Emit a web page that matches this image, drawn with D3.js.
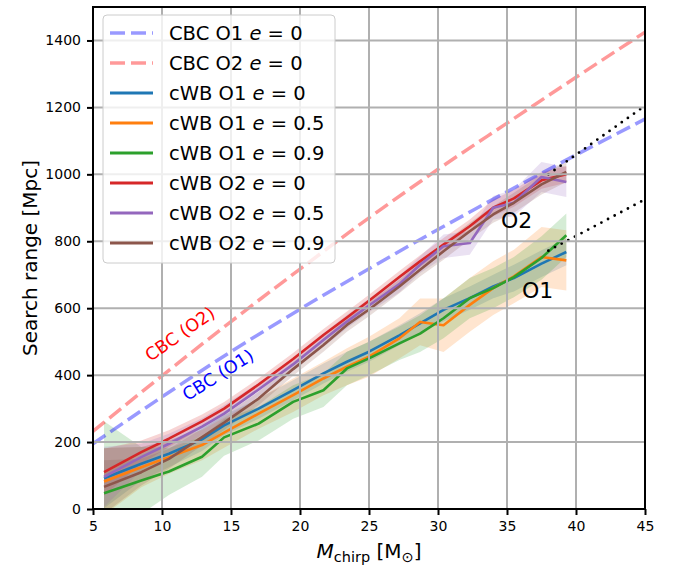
<!DOCTYPE html>
<html lang="en">
<head>
<meta charset="UTF-8">
<title>Search range vs chirp mass</title>
<script src="https://d3js.org/d3.v7.min.js"></script>
<style>
  body { margin: 0; background: #fff; }
  svg { font-family: "DejaVu Sans", sans-serif; }
</style>
</head>
<body>
<svg id="chart" width="673" height="567"></svg>
<script>
// ---- data ----
// CBC expected range (dashed), sampled every 5 Msun
let cbcMass = [5, 10, 15, 20, 25, 30, 35, 40, 45];
let cbcO1 = [195, 335, 470, 597, 718, 835, 948, 1058, 1165];
let cbcO2 = [232, 398, 560, 717, 870, 1015, 1153, 1290, 1425];

// cWB measured range, same mass bins for every series
let cwbMass = [5.8, 8.5, 10.5, 12.9, 14.5, 17, 19.5, 21.7, 23.4, 25, 27.2, 28.7, 30.4, 32.3, 34, 35.5, 37.5, 39.3];
let o1e0  = [92, 135, 165, 208, 250, 300, 355, 405, 440, 470, 519, 555, 595, 630, 665, 690, 733, 768];
let o1e05 = [82, 125, 155, 191, 228, 285, 340, 390, 425, 455, 510, 559, 549, 610, 660, 695, 753, 743];
let o1e09 = [47, 85, 112, 156, 214, 255, 320, 355, 420, 450, 495, 524, 570, 630, 660, 693, 750, 818];
let o2e0  = [110, 170, 210, 262, 300, 372, 448, 520, 572, 622, 693, 740, 790, 845, 900, 928, 982, 1000];
let o2e05 = [96, 155, 195, 246, 285, 357, 432, 505, 560, 608, 672, 730, 785, 795, 900, 915, 992, 977];
let o2e09 = [66, 110, 150, 215, 258, 330, 418, 490, 550, 596, 665, 715, 770, 830, 880, 915, 970, 1007];

// half widths of the shaded bands
let errO1e0  = [90, 50, 40, 35, 30, 30, 30, 30, 30, 30, 30, 30, 35, 35, 35, 40, 40, 40];
let errO1e05 = [100, 60, 50, 45, 45, 45, 50, 50, 55, 60, 60, 70, 80, 80, 80, 80, 90, 90];
let errO1e09 = [215, 100, 70, 60, 55, 50, 50, 50, 50, 50, 50, 55, 60, 60, 60, 60, 65, 65];
let errO2e0  = [70, 35, 25, 20, 20, 18, 18, 18, 18, 18, 18, 18, 20, 20, 25, 25, 25, 25];
let errO2e05 = [90, 40, 30, 25, 25, 20, 20, 20, 20, 20, 25, 25, 35, 35, 35, 40, 45, 45];
let errO2e09 = [80, 40, 30, 25, 22, 20, 20, 20, 20, 20, 20, 20, 25, 25, 25, 30, 30, 30];

// dotted extrapolations
let extMass = [38, 45];
let extO2 = [1000, 1205];
let extO1 = [772, 925];

let xTicks = [5, 10, 15, 20, 25, 30, 35, 40, 45];
let yTicks = [0, 200, 400, 600, 800, 1000, 1200, 1400];

// ---- layout ----
let svg = d3.select('#chart');
let margins = {left: 93, right: 28, top: 7, bottom: 58};
let W = 673, H = 567;
let x = d3.scaleLinear().domain([5, 45]).range([margins.left, W - margins.right]);
let y = d3.scaleLinear().domain([0, 1500]).range([H - margins.bottom, margins.top]);

svg.append('clipPath').attr('id', 'clip')
  .append('rect')
  .attr('x', x(5)).attr('y', y(1500))
  .attr('width', x(45) - x(5)).attr('height', y(0) - y(1500));

let plot = svg.append('g').attr('clip-path', 'url(#clip)');

let series = [
  {name: 'cWB O1', e: '0',   vals: o1e0,  err: errO1e0,  color: '#1f77b4'},
  {name: 'cWB O1', e: '0.5', vals: o1e05, err: errO1e05, color: '#ff7f0e'},
  {name: 'cWB O1', e: '0.9', vals: o1e09, err: errO1e09, color: '#2ca02c'},
  {name: 'cWB O2', e: '0',   vals: o2e0,  err: errO2e0,  color: '#d62728'},
  {name: 'cWB O2', e: '0.5', vals: o2e05, err: errO2e05, color: '#9467bd'},
  {name: 'cWB O2', e: '0.9', vals: o2e09, err: errO2e09, color: '#8c564b'}
];

// bands
let area = d3.area()
  .x(function (d) { return x(d.m); })
  .y0(function (d) { return y(d.v - d.e); })
  .y1(function (d) { return y(d.v + d.e); });
series.forEach(function (s) {
  let pts = cwbMass.map(function (m, i) { return {m: m, v: s.vals[i], e: s.err[i]}; });
  plot.append('path').datum(pts)
    .attr('d', area)
    .attr('fill', s.color)
    .attr('fill-opacity', 0.2)
    .attr('stroke', 'none');
});

// grid
let grid = svg.append('g');
grid.selectAll('.gx').data(xTicks).enter().append('line')
  .attr('x1', function (d) { return x(d); }).attr('x2', function (d) { return x(d); })
  .attr('y1', y(0)).attr('y2', y(1500))
  .attr('stroke', '#b0b0b0').attr('stroke-width', 2);
grid.selectAll('.gy').data(yTicks).enter().append('line')
  .attr('x1', x(5)).attr('x2', x(45))
  .attr('y1', function (d) { return y(d); }).attr('y2', function (d) { return y(d); })
  .attr('stroke', '#b0b0b0').attr('stroke-width', 2);

let line = d3.line()
  .x(function (d) { return x(d[0]); })
  .y(function (d) { return y(d[1]); });

// CBC dashed curves
plot.append('path').datum(d3.zip(cbcMass, cbcO1))
  .attr('d', line.curve(d3.curveMonotoneX)).attr('fill', 'none')
  .attr('stroke', 'blue').attr('stroke-opacity', 0.4)
  .attr('stroke-width', 3.5).attr('stroke-dasharray', '15,6');
plot.append('path').datum(d3.zip(cbcMass, cbcO2))
  .attr('d', line.curve(d3.curveMonotoneX)).attr('fill', 'none')
  .attr('stroke', 'red').attr('stroke-opacity', 0.4)
  .attr('stroke-width', 3.5).attr('stroke-dasharray', '15,6');
line.curve(d3.curveLinear);

// cWB lines
series.forEach(function (s) {
  plot.append('path').datum(d3.zip(cwbMass, s.vals))
    .attr('d', line).attr('fill', 'none')
    .attr('stroke', s.color).attr('stroke-width', 2.6)
    .attr('stroke-linejoin', 'round');
});

// dotted extrapolations
[extO2, extO1].forEach(function (ext) {
  plot.append('path').datum(d3.zip(extMass, ext))
    .attr('d', line).attr('fill', 'none')
    .attr('stroke', 'black').attr('stroke-width', 2.8)
    .attr('stroke-dasharray', '0,7.5').attr('stroke-linecap', 'round');
});

// annotations
svg.append('text').attr('x', 501).attr('y', 228).attr('font-size', 22).text('O2');
svg.append('text').attr('x', 522).attr('y', 298).attr('font-size', 22).text('O1');
svg.append('text')
  .attr('transform', 'translate(180,334) rotate(-35)')
  .attr('text-anchor', 'middle').attr('dominant-baseline', 'central')
  .attr('font-size', 17.5).attr('fill', 'red').text('CBC (O2)');
svg.append('text')
  .attr('transform', 'translate(218,375) rotate(-32)')
  .attr('text-anchor', 'middle').attr('dominant-baseline', 'central')
  .attr('font-size', 17.5).attr('fill', 'blue').text('CBC (O1)');

// axes
let xAxis = svg.append('g')
  .attr('transform', 'translate(0,' + y(0) + ')')
  .call(d3.axisBottom(x).tickValues(xTicks).tickSize(6).tickPadding(6).tickFormat(d3.format('d')));
let yAxis = svg.append('g')
  .attr('transform', 'translate(' + x(5) + ',0)')
  .call(d3.axisLeft(y).tickValues(yTicks).tickSize(6).tickPadding(6).tickFormat(d3.format('d')));
[xAxis, yAxis].forEach(function (a) {
  a.select('.domain').remove();
  a.selectAll('.tick line').attr('stroke', 'black').attr('stroke-width', 2);
  a.selectAll('.tick text').attr('font-size', 14).attr('fill', 'black')
    .attr('font-family', '"DejaVu Sans", sans-serif');
});

// frame
svg.append('rect')
  .attr('x', x(5)).attr('y', y(1500))
  .attr('width', x(45) - x(5)).attr('height', y(0) - y(1500))
  .attr('fill', 'none').attr('stroke', 'black').attr('stroke-width', 2);

// axis labels
let xl = svg.append('text').attr('x', (x(5) + x(45)) / 2).attr('y', 558)
  .attr('text-anchor', 'middle').attr('font-size', 20);
xl.append('tspan').attr('font-style', 'italic').text('M');
xl.append('tspan').attr('font-size', 14.5).attr('dy', 4).text('chirp');
xl.append('tspan').attr('dy', -4).text(' [M');
xl.append('tspan').attr('font-size', 14.5).attr('dy', 4).text('⊙');
xl.append('tspan').attr('dy', -4).text(']');

svg.append('text')
  .attr('transform', 'translate(37,' + ((y(0) + y(1500)) / 2) + ') rotate(-90)')
  .attr('text-anchor', 'middle').attr('font-size', 20)
  .text('Search range [Mpc]');

// legend
let legendItems = [
  {name: 'CBC O1', e: '0', color: 'blue', op: 0.4, dash: '15,6'},
  {name: 'CBC O2', e: '0', color: 'red', op: 0.4, dash: '15,6'}
].concat(series.map(function (s) { return {name: s.name, e: s.e, color: s.color, op: 1, dash: null}; }));

let lg = svg.append('g');
lg.append('rect').attr('x', 103).attr('y', 15).attr('width', 232).attr('height', 248)
  .attr('rx', 4).attr('fill', 'white').attr('fill-opacity', 0.8)
  .attr('stroke', '#cccccc').attr('stroke-width', 1);
legendItems.forEach(function (d, i) {
  let yy = 33 + i * 30;
  lg.append('line').attr('x1', 110).attr('x2', 153).attr('y1', yy).attr('y2', yy)
    .attr('stroke', d.color).attr('stroke-opacity', d.op)
    .attr('stroke-width', d.dash ? 3.5 : 3)
    .attr('stroke-dasharray', d.dash);
  let t = lg.append('text').attr('x', 169).attr('y', yy + 7).attr('font-size', 19.5);
  t.append('tspan').text(d.name + ' ');
  t.append('tspan').attr('font-style', 'italic').text('e');
  t.append('tspan').text(' = ' + d.e);
});
</script>
</body>
</html>
